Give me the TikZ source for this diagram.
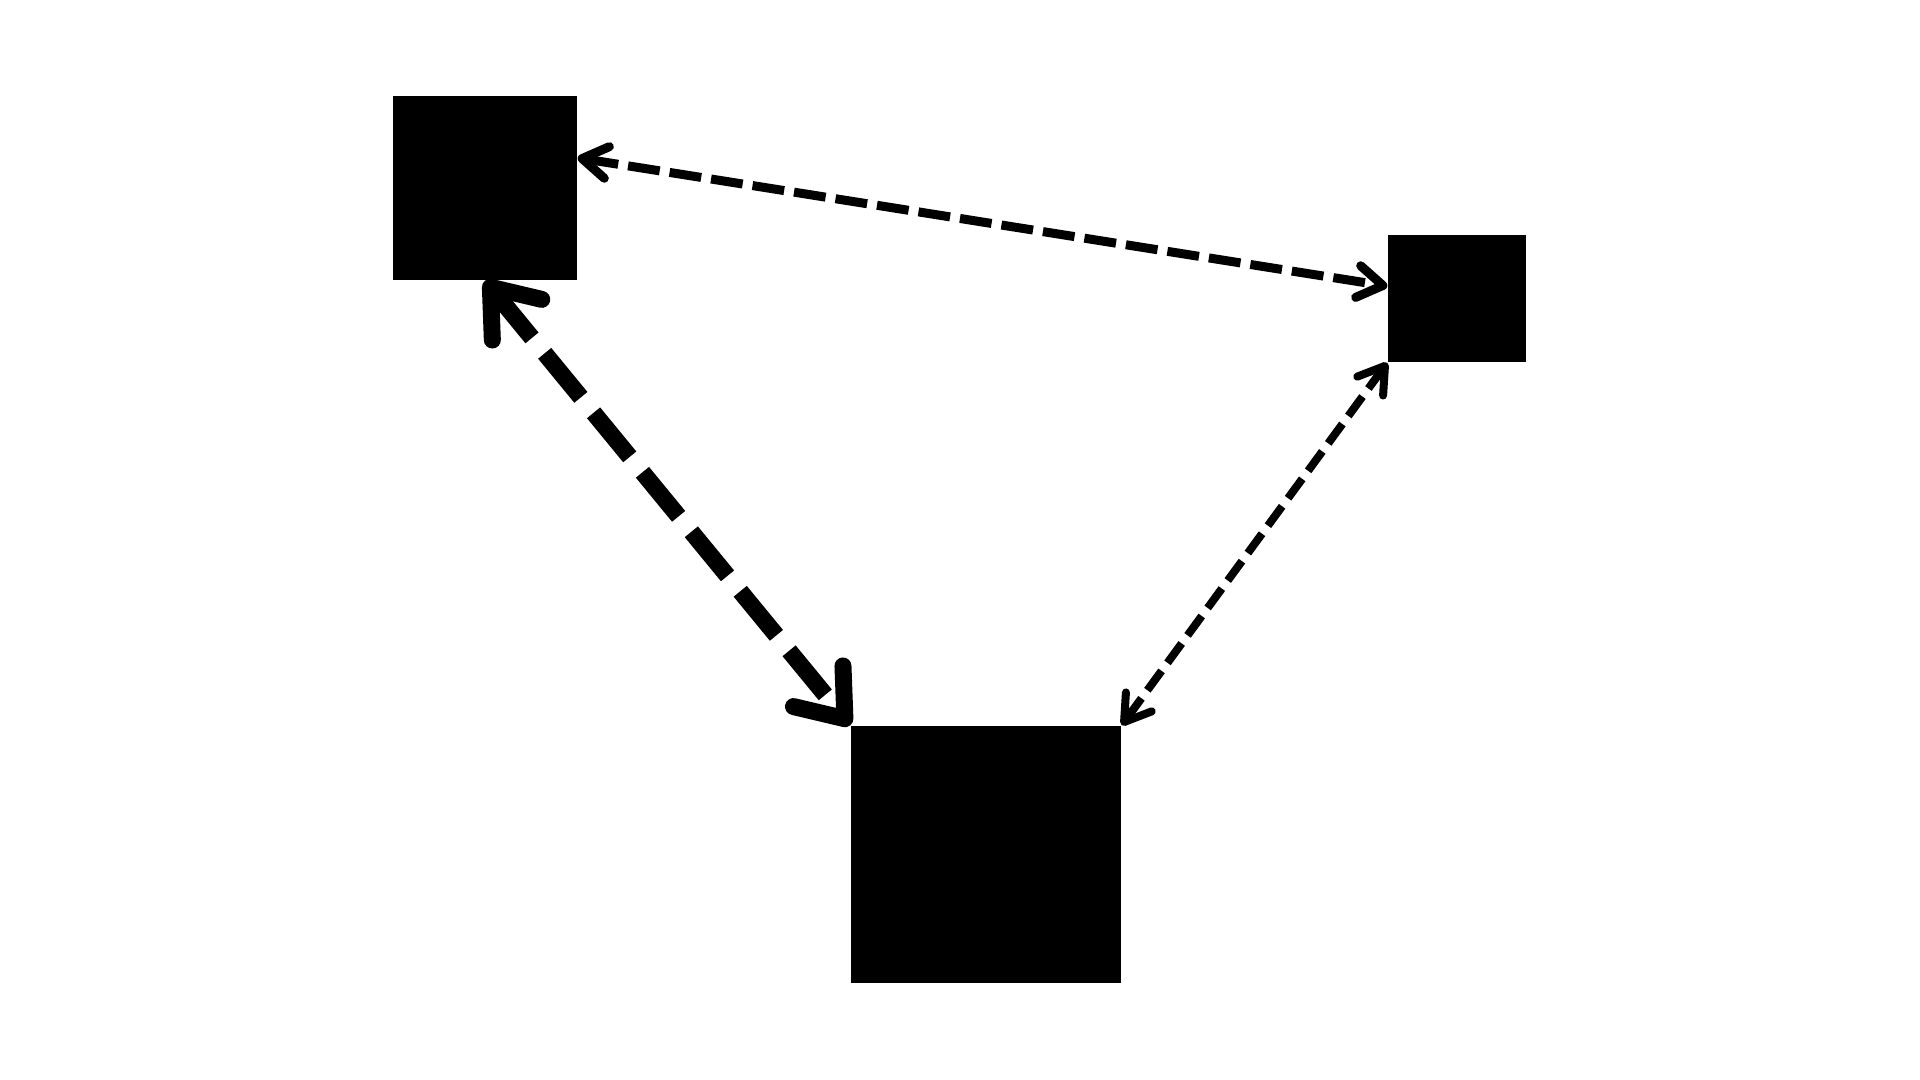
\documentclass[tikz,border=0pt]{standalone}
\usetikzlibrary{arrows.meta}

\begin{document}
\begin{tikzpicture}[
    box/.style={fill=black, draw=none, inner sep=0pt},
    link/.style={line cap=butt, {Straight Barb[round, length=0.25cm, width=0.32cm]}-{Straight Barb[round, length=0.25cm, width=0.32cm]}},
    biglink/.style={line cap=butt, {Straight Barb[round, length=0.42cm, width=0.64cm]}-{Straight Barb[round, length=0.42cm, width=0.64cm]}}
]
    \useasboundingbox (0, 0) rectangle (19.2, 10.8);

    \node[box, minimum width=1.84cm, minimum height=1.84cm] (box1) at (4.85, 8.92) {};
    \node[box, minimum width=1.38cm, minimum height=1.27cm] (box2) at (14.57, 7.815) {};
    \node[box, minimum width=2.70cm, minimum height=2.57cm] (box3) at (9.86, 2.255) {};

    \draw[link, line width=0.09cm, dash pattern=on 0.32cm off 0.10cm] (box1.18) -- (box2.170);
    \draw[biglink, line width=0.17cm, dash pattern=on 0.57cm off 0.20cm] (box1.south) -- (box3.north west);
    \draw[link, line width=0.08cm, dash pattern=on 0.24cm off 0.10cm] (box2.south west) -- (box3.north east);
\end{tikzpicture}
\end{document}
